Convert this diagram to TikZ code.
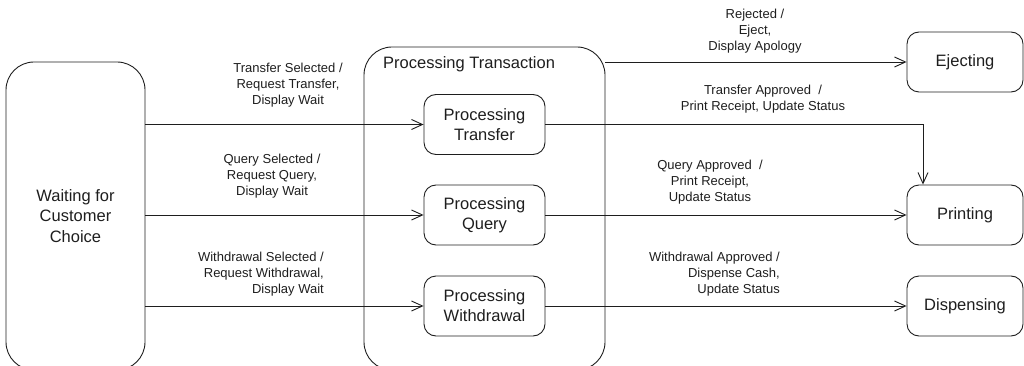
\documentclass[tikz,border=0pt]{standalone}
\usepackage{fontspec}
\setmainfont{Liberation Sans}
\usetikzlibrary{arrows.meta}
\definecolor{ink}{RGB}{30,30,30}
\begin{document}
\begin{tikzpicture}[x=1pt,y=-1pt,
  every node/.style={text=ink},
  state/.style={draw=ink, line width=0.9pt, rounded corners=12pt, minimum width=121pt, minimum height=60pt, inner sep=0pt, align=center, font=\fontsize{16.5}{20}\selectfont},
  bigstate/.style={draw=ink, line width=0.9pt, rounded corners=28pt, inner sep=0pt, align=center, font=\fontsize{16.5}{20.5}\selectfont},
  lbl/.style={inner sep=0pt, font=\fontsize{13}{16}\selectfont},
  arr/.style={draw=ink, line width=0.9pt, -{Straight Barb[length=11pt,width=10pt,line width=0.9pt]}}]
\useasboundingbox (0,0) rectangle (1024,366);
% states
\node[bigstate, minimum width=139pt, minimum height=308pt] (wait) at (75.5,216) {Waiting for\\Customer\\Choice};
\node[bigstate, minimum width=241pt, minimum height=323pt] (trans) at (484.5,208.5) {};
\node[lbl, anchor=west, font=\fontsize{16.5}{20}\selectfont] (transtitle) at (383,64) {Processing Transaction};
\node[state] (ptr) at (484.5,124.5) {Processing\\Transfer};
\node[state] (pq) at (484.5,215) {Processing\\Query};
\node[state] (pw) at (484.5,306) {Processing\\Withdrawal};
\node[state, minimum width=116pt] (ej) at (965,62) {Ejecting};
\node[state, minimum width=116pt] (pr) at (965,215) {Printing};
\node[state, minimum width=116pt] (di) at (965,306) {Dispensing};
% transitions
\draw[arr] (wait.east |- ptr) -- (ptr.west);
\draw[arr] (wait.east |- pq) -- (pq.west);
\draw[arr] (wait.east |- pw) -- (pw.west);
\draw[arr] (trans.east |- ej) -- (ej.west);
\draw[arr] (ptr.east) -| ([xshift=-42pt]pr.north);
\draw[arr] (pq.east) -- (pr.west);
\draw[arr] (pw.east) -- (di.west);
% labels
\node[lbl, align=center] (l1) at (288,85) {Transfer Selected /\\Request Transfer,\\Display Wait};
\node[lbl, align=center] (l2) at (272,176) {Query Selected /\\Request Query,\\Display Wait};
\node[lbl, align=right, anchor=east] (l3) at (324,274) {Withdrawal Selected /\\Request Withdrawal,\\Display Wait};
\node[lbl, align=center] (l4) at (755,31) {Rejected /\\Eject,\\Display Apology};
\node[lbl, align=center] (l5) at (763,99) {Transfer Approved~ /\\Print Receipt, Update Status};
\node[lbl, align=center] (l6) at (710,182) {Query Approved~ /\\Print Receipt,\\Update Status};
\node[lbl, align=right, anchor=east] (l7) at (780,274) {Withdrawal Approved /\\Dispense Cash,\\Update Status~};
\end{tikzpicture}
\end{document}
